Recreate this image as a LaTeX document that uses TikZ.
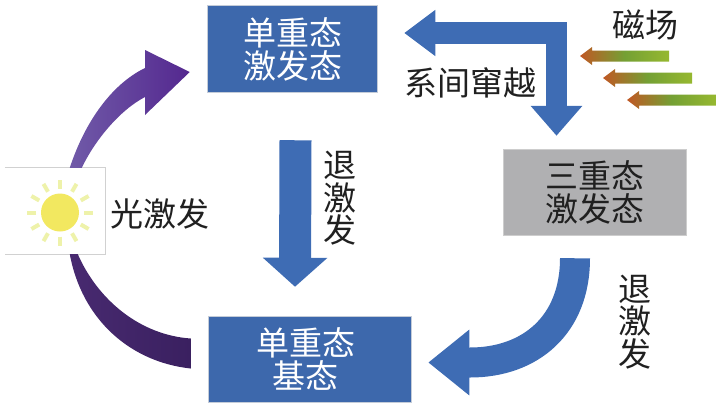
\documentclass[tikz,border=0pt]{standalone}
\usepackage{fontspec}
\setmainfont{Noto Sans CJK SC}
\usepackage{xcolor}
\usetikzlibrary{positioning,arrows.meta,calc}
\definecolor{boxblue}{RGB}{61,104,172}
\definecolor{arrowblue}{RGB}{62,108,180}
\definecolor{boxedge}{RGB}{196,204,216}
\definecolor{boxgray}{RGB}{176,176,178}
\definecolor{grayedge}{RGB}{205,205,205}
\definecolor{inkc}{RGB}{32,32,32}
\definecolor{sunc}{RGB}{242,232,96}
\definecolor{rayc}{RGB}{238,242,170}
\definecolor{puplow}{RGB}{112,90,168}
\definecolor{puphigh}{RGB}{84,40,143}
\definecolor{darkpl}{RGB}{72,42,112}
\definecolor{darkpr}{RGB}{58,32,96}
\definecolor{maggreen}{RGB}{150,184,48}
\definecolor{magmid}{RGB}{116,160,52}
\definecolor{magred}{RGB}{192,88,36}
\tikzset{
  statebox/.style={draw=boxedge, line width=1.5pt, fill=boxblue, text=white, align=center,
                   font=\fontsize{33}{33}\selectfont, inner sep=0pt},
  grayboxst/.style={statebox, draw=grayedge, fill=boxgray, text=inkc},
  lbl/.style={font=\fontsize{33}{32.5}\selectfont, text=inkc, align=center, inner sep=0pt},
  bigarrow/.style={draw=arrowblue, line width=30pt, -{Triangle[length=41pt,width=63pt]}},
  iscarrow/.style={draw=arrowblue, line width=21.5pt,
                   {Triangle[length=31pt,width=44pt]}-{Triangle[length=30pt,width=50pt]}},
  magarrow/.style={left color=magred, right color=maggreen, middle color=magmid, draw=none},
  ray/.style={draw=rayc, line width=4pt}
}
\begin{document}
\begin{tikzpicture}[x=1pt, y=-1pt]
\useasboundingbox (0,0) rectangle (720,410);
% boxes
\node[statebox, minimum width=170pt, minimum height=87pt] (s1) at (292.5,49) {单重态\\激发态};
\node[grayboxst, minimum width=183pt, minimum height=86pt] (t1) at (595,192.5) {三重态\\激发态};
\node[statebox, minimum width=203pt, minimum height=86pt] (s0) at (310,359.5) {\hspace*{-9pt}单重态\\\hspace*{-9pt}基态};
\node[minimum width=100pt, minimum height=86pt, inner sep=0pt, fill=white] (sun) at (55,211) {};
\draw[black!18, thick] (sun.north west) -- (sun.north east) -- (sun.south east) -- (sun.south west);
% sun
\foreach \a in {0,30,...,330}
  \draw[ray] (60,212.5)++(\a:24) -- ++(\a:9);
\node[circle, fill=sunc, minimum size=38pt, inner sep=0pt] (sunc0) at (60,212.5) {};
% purple arrows
\coordinate (upa) at (sun.north west);
\coordinate (lowa) at (sun.south west);
\path[left color=puplow, right color=puphigh, draw=none]
  ($(upa)+(65,0)$) .. controls ++(14,-43) and (110,85) .. (145,68) -- (145,50) -- ($(s1.west)+(-17,23)$)
  -- (145,115) -- (145,97) .. controls (120,110) and (95,140) .. ($(upa)+(77,0)$) -- cycle;
\path[left color=darkpl, right color=darkpr, draw=none]
  ($(lowa)+(65,0)$) .. controls ++(12,65) and (130,362) .. ($(s0.west)+(-17,9)$)
  -- ($(s0.west)+(-17,-21)$) .. controls (140,335) and (98,300) .. ($(lowa)+(73,0)$) -- cycle;
% blue arrows
\coordinate (downa) at ($(s1.south)+(3,47)$);
\coordinate (downb) at ($(s0.north)+(-15,-29)$);
\draw[bigarrow, line width=32pt, -{Triangle[length=29pt,width=63pt]}] (downa) -- (downb);
\coordinate (isca) at ($(s1.east)+(26,-16)$);
\coordinate (iscc) at (556.5,33);
\coordinate (iscb) at ($(t1.north)+(-38.5,-13)$);
\draw[iscarrow] (isca) -- (iscc) -- (iscb);
\coordinate (deca) at ($(t1.south)+(-20,22)$);
\coordinate (decb) at ($(s0.east)+(16,3)$);
\draw[bigarrow] (deca) .. controls ++(0,67) and (530,362.5) .. (470,362.5) -- (decb);
% magnetic field
\foreach \i/\xx/\yy in {1/580/56, 2/603/78, 3/627/100} {
  \coordinate (mag\i) at (\xx,\yy);
  \path[magarrow] (mag\i) -- ++(12,-9) -- ++(0,3.5) -- ++(77,0) -- ++(0,11) -- ++(-77,0) -- ++(0,3.5) -- cycle;
}
% labels
\node[lbl] (isc) at (470,83) {系间窜越};
\node[lbl] (mag) at (645,25) {磁场};
\node[lbl] (exc) at (160,214) {光激发};
\node[lbl] (dec1) at (340,198.5) {退\\激\\发};
\node[lbl] (dec2) at (635,322) {退\\激\\发};
\end{tikzpicture}
\end{document}
